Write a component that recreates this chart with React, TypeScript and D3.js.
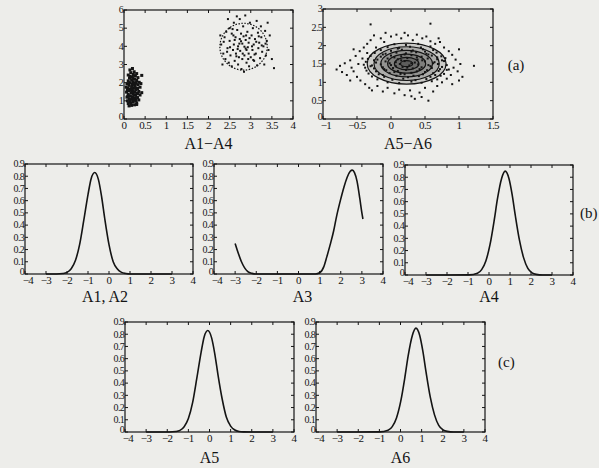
import React from 'react';
import * as d3 from 'd3';

// tick labels
const ticksA14X = [0, 0.5, 1, 1.5, 2, 2.5, 3, 3.5, 4];
const ticksA14Y = [0, 1, 2, 3, 4, 5, 6];
const ticksA56X = [-1, -0.5, 0, 0.5, 1, 1.5];
const ticksA56Y = [0, 0.5, 1, 1.5, 2, 2.5, 3];
const ticksDensX = [-4, -3, -2, -1, 0, 1, 2, 3, 4];
const ticksDensY = [0, 0.1, 0.2, 0.3, 0.4, 0.5, 0.6, 0.7, 0.8, 0.9];

// (a) scatter: A1-A4, two clusters
const a14Left: [number, number][] = [
  [0.12, 0.72], [0.18, 0.75], [0.25, 0.78], [0.1, 0.85], [0.3, 0.88], [0.15, 0.92], [0.22, 0.95], [0.08, 1.0],
  [0.28, 1.02], [0.35, 1.05], [0.18, 1.08], [0.12, 1.12], [0.25, 1.15], [0.32, 1.18], [0.07, 1.2], [0.2, 1.22],
  [0.15, 1.28], [0.28, 1.3], [0.38, 1.32], [0.1, 1.35], [0.22, 1.38], [0.3, 1.42], [0.17, 1.45], [0.06, 1.48],
  [0.25, 1.5], [0.35, 1.52], [0.12, 1.55], [0.2, 1.58], [0.28, 1.6], [0.15, 1.65], [0.32, 1.68], [0.09, 1.7],
  [0.22, 1.72], [0.38, 1.75], [0.18, 1.78], [0.26, 1.82], [0.12, 1.85], [0.33, 1.88], [0.2, 1.9], [0.07, 1.93],
  [0.27, 1.96], [0.15, 2.0], [0.36, 2.02], [0.22, 2.05], [0.1, 2.1], [0.3, 2.12], [0.18, 2.15], [0.25, 2.2],
  [0.13, 2.25], [0.33, 2.28], [0.2, 2.32], [0.27, 2.38], [0.1, 2.42], [0.22, 2.45], [0.3, 2.5], [0.16, 2.55],
  [0.24, 2.6], [0.14, 2.7], [0.2, 2.78], [0.42, 2.4], [0.4, 1.95], [0.42, 1.45], [0.05, 1.75], [0.14, 1.02],
  [0.24, 1.32], [0.2, 1.48], [0.16, 1.62], [0.24, 1.95], [0.14, 2.35], [0.3, 0.8], [0.09, 1.25], [0.19, 1.15],
  [0.27, 1.7], [0.11, 1.95], [0.21, 2.22], [0.29, 2.0], [0.17, 0.85], [0.33, 1.4], [0.08, 1.6], [0.23, 1.05],
];
const a14Right: [number, number][] = [
  [2.74, 4.4], [2.8, 4.15], [2.85, 3.98], [2.9, 3.8], [2.95, 3.6], [2.77, 4.28], [2.88, 3.88],
  [2.3, 4.1], [2.35, 3.6], [2.38, 4.5], [2.4, 3.3], [2.42, 4.8], [2.45, 3.9], [2.48, 3.1], [2.5, 4.3],
  [2.5, 5.0], [2.52, 3.5], [2.55, 4.7], [2.55, 2.9], [2.58, 3.8], [2.6, 4.1], [2.6, 5.3], [2.62, 3.2],
  [2.64, 4.5], [2.65, 3.6], [2.68, 4.9], [2.7, 3.0], [2.7, 4.0], [2.72, 3.4], [2.74, 5.5], [2.75, 3.75],
  [2.77, 4.7], [2.78, 2.75], [2.8, 3.3], [2.82, 5.1], [2.83, 4.55], [2.85, 3.5], [2.87, 5.7], [2.88, 4.35],
  [2.9, 3.1], [2.92, 4.8], [2.93, 3.95], [2.95, 4.2], [2.96, 2.9], [2.98, 5.3], [3.0, 3.4], [3.02, 4.6],
  [3.04, 3.8], [3.05, 5.0], [3.07, 4.1], [3.08, 3.2], [3.1, 4.4], [3.12, 3.6], [3.14, 5.4], [3.15, 2.95],
  [3.17, 4.75], [3.18, 3.9], [3.2, 4.2], [3.22, 3.35], [3.24, 5.1], [3.25, 4.5], [3.27, 3.7], [3.3, 4.0],
  [3.32, 3.0], [3.34, 4.85], [3.36, 3.5], [3.38, 4.3], [3.4, 5.3], [3.42, 3.8], [3.45, 4.6], [3.5, 3.3],
  [3.55, 2.8], [2.28, 4.6], [2.33, 3.0], [2.46, 5.5], [2.57, 4.95], [2.67, 5.65], [2.36, 4.25], [2.44, 3.7],
  [2.62, 4.35], [2.69, 3.85], [2.73, 4.15], [2.81, 3.6], [2.89, 4.6], [2.97, 4.45], [3.03, 4.0], [3.09, 3.55],
  [3.13, 4.25], [3.19, 4.55], [2.66, 3.45], [2.59, 4.6], [2.94, 3.3], [3.06, 3.25], [3.26, 4.05], [3.35, 4.15],
  [2.51, 3.95], [2.84, 2.6],
];
// contour of the right cluster: [cx, cy, rx, ry]
const a14Contours: [number, number, number, number][] = [[2.83, 3.98, 0.56, 1.29]];

// (a) scatter: A5-A6
const a56Points: [number, number][] = [
  [-0.05, 1.0], [0.12, 0.98], [0.3, 1.02], [0.45, 0.99], [0.6, 1.03],
  [-0.2, 1.08], [0.02, 1.07], [0.18, 1.1], [0.36, 1.06], [0.52, 1.09], [0.68, 1.08],
  [-0.28, 1.16], [-0.1, 1.15], [0.08, 1.18], [0.25, 1.14], [0.41, 1.17], [0.58, 1.15], [0.73, 1.18],
  [-0.33, 1.24], [-0.18, 1.22], [-0.02, 1.25], [0.14, 1.23], [0.3, 1.26], [0.47, 1.22], [0.62, 1.25], [0.78, 1.23],
  [-0.36, 1.32], [-0.22, 1.3], [-0.07, 1.33], [0.1, 1.31], [0.22, 1.34], [0.38, 1.3], [0.53, 1.33], [0.7, 1.31], [0.82, 1.34],
  [-0.38, 1.4], [-0.25, 1.38], [-0.12, 1.41], [0.03, 1.39], [0.17, 1.42], [0.32, 1.38], [0.45, 1.41], [0.6, 1.39], [0.75, 1.42],
  [-0.4, 1.48], [-0.28, 1.46], [-0.15, 1.49], [0.0, 1.47], [0.13, 1.5], [0.27, 1.46], [0.4, 1.49], [0.55, 1.47], [0.69, 1.5], [0.82, 1.47],
  [-0.37, 1.56], [-0.22, 1.54], [-0.08, 1.57], [0.07, 1.55], [0.2, 1.58], [0.35, 1.54], [0.5, 1.57], [0.64, 1.55], [0.78, 1.58],
  [-0.34, 1.64], [-0.2, 1.62], [-0.05, 1.65], [0.1, 1.63], [0.24, 1.66], [0.39, 1.62], [0.54, 1.65], [0.68, 1.63], [0.8, 1.66],
  [-0.3, 1.72], [-0.15, 1.7], [0.0, 1.73], [0.15, 1.71], [0.3, 1.74], [0.45, 1.7], [0.6, 1.73], [0.74, 1.71],
  [-0.24, 1.8], [-0.08, 1.78], [0.08, 1.81], [0.22, 1.79], [0.37, 1.82], [0.52, 1.78], [0.67, 1.81],
  [-0.15, 1.88], [0.0, 1.86], [0.16, 1.89], [0.32, 1.87], [0.47, 1.9], [0.62, 1.88],
  [-0.05, 1.96], [0.12, 1.94], [0.28, 1.97], [0.44, 1.95], [0.58, 1.98],
  [0.05, 2.04], [0.22, 2.02], [0.4, 2.05],
  [-0.12, 1.2], [0.05, 1.28], [0.2, 1.22], [0.33, 1.18], [0.5, 1.28], [0.65, 1.2], [-0.3, 1.44], [-0.1, 1.36],
  [0.07, 1.44], [0.24, 1.4], [0.42, 1.36], [0.58, 1.44], [0.72, 1.36], [-0.25, 1.6], [-0.02, 1.52], [0.15, 1.6],
  [0.3, 1.52], [0.46, 1.6], [0.62, 1.52], [0.75, 1.6], [-0.12, 1.76], [0.05, 1.68], [0.2, 1.76], [0.38, 1.68],
  [0.55, 1.76], [0.68, 1.68], [0.1, 1.92], [0.3, 1.84], [0.5, 1.84],
  [-0.8, 1.35], [-0.75, 1.45], [-0.72, 1.28], [-0.68, 1.52], [-0.65, 1.2], [-0.6, 1.6], [-0.58, 1.4], [-0.55, 1.3],
  [-0.52, 1.72], [-0.5, 1.15], [-0.48, 1.5], [-0.46, 1.85], [-0.45, 1.05], [-0.42, 1.65], [-0.4, 1.95], [-0.38, 0.95],
  [-0.35, 2.05], [-0.32, 0.85], [-0.3, 2.15], [-0.28, 0.78], [-0.25, 2.28], [-0.22, 1.95], [-0.2, 0.9], [-0.3, 2.58],
  [-0.15, 2.2], [-0.12, 0.75], [-0.08, 2.35], [-0.05, 0.85], [0.0, 2.25], [0.05, 0.7], [0.08, 2.3], [0.12, 0.8],
  [0.15, 2.2], [0.2, 0.65], [0.25, 2.28], [0.28, 0.78], [0.32, 2.15], [0.35, 0.55], [0.38, 2.3], [0.42, 0.72],
  [0.46, 2.2], [0.5, 0.85], [0.52, 2.25], [0.55, 0.5], [0.58, 2.12], [0.62, 0.75], [0.65, 2.05], [0.68, 0.9],
  [0.72, 2.1], [0.75, 1.0], [0.78, 1.95], [0.82, 1.1], [0.85, 1.85], [0.88, 1.2], [0.9, 1.75], [0.92, 1.4],
  [0.95, 1.62], [0.98, 1.3], [1.0, 1.9], [1.02, 1.5], [1.05, 1.15], [1.0, 1.05], [1.22, 1.45], [0.58, 2.6],
  [0.3, 0.62], [0.45, 0.6], [-0.6, 1.05], [-0.35, 1.8], [0.85, 1.35], [0.9, 0.95], [-0.55, 1.9], [0.2, 2.35],
  [0.7, 2.2], [-0.1, 2.1],
];
const a56Contours: [number, number, number, number][] = [
  [0.23, 1.51, 0.58, 0.56], [0.23, 1.51, 0.48, 0.46], [0.23, 1.51, 0.38, 0.36],
  [0.23, 1.51, 0.28, 0.26], [0.23, 1.51, 0.18, 0.17], [0.23, 1.51, 0.09, 0.08],
];

// (b), (c) densities
const densA12: [number, number][] = [
  [-3, 0], [-2.5, 0], [-2.2, 0.004], [-2.0, 0.013], [-1.8, 0.043], [-1.6, 0.11], [-1.4, 0.24], [-1.2, 0.44],
  [-1.0, 0.65], [-0.85, 0.78], [-0.68, 0.83], [-0.5, 0.77], [-0.35, 0.63], [-0.2, 0.45], [0, 0.24], [0.2, 0.1],
  [0.4, 0.04], [0.6, 0.013], [0.8, 0.004], [1.0, 0], [1.5, 0], [2, 0], [2.5, 0], [3, 0],
];
const densA3: [number, number][] = [
  [-3.0, 0.25], [-2.85, 0.17], [-2.7, 0.1], [-2.55, 0.05], [-2.4, 0.02], [-2.2, 0.005], [-2.0, 0],
  [-1, 0], [0, 0], [0.8, 0], [1.0, 0.01], [1.2, 0.06], [1.34, 0.14], [1.5, 0.24], [1.66, 0.35], [1.8, 0.47],
  [1.98, 0.6], [2.15, 0.71], [2.3, 0.79], [2.45, 0.84], [2.55, 0.85], [2.65, 0.83], [2.77, 0.76], [2.9, 0.62],
  [3.0, 0.5], [3.05, 0.45],
];
const densA4: [number, number][] = [
  [-3, 0], [-2, 0], [-0.95, 0.001], [-0.55, 0.014], [-0.35, 0.044], [-0.15, 0.115], [0.05, 0.25], [0.25, 0.45],
  [0.4, 0.62], [0.6, 0.79], [0.77, 0.85], [0.95, 0.79], [1.1, 0.66], [1.25, 0.49], [1.45, 0.285], [1.65, 0.14],
  [1.85, 0.054], [2.05, 0.018], [2.25, 0.005], [2.55, 0], [3, 0],
];
const densA5: [number, number][] = [
  [-3, 0], [-2.4, 0], [-1.9, 0], [-1.6, 0.004], [-1.4, 0.013], [-1.2, 0.043], [-1.0, 0.11], [-0.8, 0.24],
  [-0.6, 0.44], [-0.4, 0.65], [-0.25, 0.78], [-0.08, 0.83], [0.1, 0.77], [0.25, 0.64], [0.4, 0.47], [0.6, 0.27],
  [0.8, 0.12], [1.0, 0.048], [1.2, 0.016], [1.4, 0.004], [1.6, 0.001], [2, 0], [2.5, 0], [3, 0],
];
const densA6: [number, number][] = [
  [-3, 0], [-2, 0], [-0.99, 0.001], [-0.59, 0.014], [-0.39, 0.044], [-0.19, 0.115], [0.01, 0.25], [0.21, 0.45],
  [0.36, 0.62], [0.56, 0.79], [0.73, 0.85], [0.91, 0.79], [1.06, 0.66], [1.21, 0.49], [1.41, 0.285], [1.61, 0.14],
  [1.81, 0.054], [2.01, 0.018], [2.21, 0.005], [2.51, 0], [3, 0],
];

const W = 599;
const H = 468;
const INK = '#141414';
const FONT = '"Liberation Serif", "DejaVu Serif", serif';

type Box = { left: number; top: number; w: number; h: number };

const fmt = (v: number) => (v < 0 ? '\u2212' + String(-v) : String(v));

function Frame({ box, x, y, xTicks, yTicks, title, titleY, titleDx = 0 }: any) {
  const bottom = box.top + box.h;
  const right = box.left + box.w;
  return (
    <g>
      <rect x={box.left} y={box.top} width={box.w} height={box.h} fill="none" stroke={INK} strokeWidth={1.2} />
      {xTicks.map((t: number, i: number) => (
        <g key={'x' + t}>
          <line x1={x(t)} x2={x(t)} y1={bottom} y2={bottom - 3} stroke={INK} />
          <line x1={x(t)} x2={x(t)} y1={box.top} y2={box.top + 3} stroke={INK} />
          <text x={x(t) + (i === 0 && t < 0 ? 3 : 0)} y={bottom + 10} textAnchor="middle" fontSize={11} letterSpacing={-0.6}>
            {fmt(t)}
          </text>
        </g>
      ))}
      {yTicks.map((t: number, i: number) => (
        <g key={'y' + t}>
          <line x1={box.left} x2={box.left + 3} y1={y(t)} y2={y(t)} stroke={INK} />
          <line x1={right} x2={right - 3} y1={y(t)} y2={y(t)} stroke={INK} />
          <text x={box.left - 1} y={y(t) - (i === 0 ? 2 : 0)} dy="0.33em" textAnchor="end" fontSize={10} letterSpacing={-0.7}>
            {fmt(t)}
          </text>
        </g>
      ))}
      <text x={box.left + box.w / 2 + titleDx} y={titleY} textAnchor="middle" fontSize={16}>
        {title}
      </text>
    </g>
  );
}

function ScatterPanel({ box, xDomain, yDomain, xTicks, yTicks, sets, sizes, contours, dash, shade, title }: any) {
  const x = d3.scaleLinear().domain(xDomain).range([box.left, box.left + box.w]);
  const y = d3.scaleLinear().domain(yDomain).range([box.top + box.h, box.top]);
  return (
    <g>
      {contours.map((c: number[], i: number) => (
        <ellipse
          key={'c' + i}
          cx={x(c[0])}
          cy={y(c[1])}
          rx={x(c[0] + c[2]) - x(c[0])}
          ry={y(c[1]) - y(c[1] + c[3])}
          fill={INK}
          fillOpacity={shade}
          stroke={INK}
          strokeWidth={1.2}
          strokeDasharray={dash}
        />
      ))}
      {sets.map((pts: [number, number][], k: number) =>
        pts.map((p, i) => (
          <rect
            key={k + '-' + i}
            x={x(p[0]) - sizes[k] / 2}
            y={y(p[1]) - sizes[k] / 2}
            width={sizes[k]}
            height={sizes[k]}
            fill={INK}
          />
        ))
      )}
      <Frame box={box} x={x} y={y} xTicks={xTicks} yTicks={yTicks} title={title} titleY={149} />
    </g>
  );
}

function DensityPanel({ box, data, title, titleY, titleDx = 0 }: any) {
  const x = d3.scaleLinear().domain([-4, 4]).range([box.left, box.left + box.w]);
  const y = d3.scaleLinear().domain([0, 0.9]).range([box.top + box.h, box.top]);
  const line = d3
    .line<[number, number]>()
    .x((d) => x(d[0]))
    .y((d) => y(d[1]))
    .curve(d3.curveMonotoneX);
  return (
    <g>
      <path d={line(data) || ''} fill="none" stroke={INK} strokeWidth={1.6} />
      <Frame box={box} x={x} y={y} xTicks={ticksDensX} yTicks={ticksDensY} title={title} titleY={titleY} titleDx={titleDx} />
    </g>
  );
}

export default function App() {
  const boxA14: Box = { left: 124, top: 10, w: 169, h: 109 };
  const boxA56: Box = { left: 323, top: 9, w: 170, h: 110 };
  const boxB1: Box = { left: 25, top: 164, w: 168, h: 110 };
  const boxB2: Box = { left: 214, top: 164, w: 169, h: 110 };
  const boxB3: Box = { left: 405, top: 165, w: 168, h: 110 };
  const boxC1: Box = { left: 125, top: 322, w: 169, h: 110 };
  const boxC2: Box = { left: 316, top: 322, w: 169, h: 110 };
  return (
    <svg
      width={W}
      height={H}
      style={{ position: 'absolute', left: 0, top: 0, fontFamily: FONT }}
      fill={INK}
    >
      <rect width={W} height={H} fill="#ededea" />
      <ScatterPanel
        box={boxA14}
        xDomain={[0, 4]}
        yDomain={[0, 6]}
        xTicks={ticksA14X}
        yTicks={ticksA14Y}
        sets={[a14Left, a14Right]}
        sizes={[3, 2]}
        contours={a14Contours}
        dash="1.5,1.5"
        shade={0}
        title={'A1\u2212A4'}
      />
      <ScatterPanel
        box={boxA56}
        xDomain={[-1, 1.5]}
        yDomain={[0, 3]}
        xTicks={ticksA56X}
        yTicks={ticksA56Y}
        sets={[a56Points]}
        sizes={[2]}
        contours={a56Contours}
        dash="none"
        shade={0.16}
        title={'A5\u2212A6'}
      />
      <text x={516} y={70} textAnchor="middle" fontSize={15}>(a)</text>
      <DensityPanel box={boxB1} data={densA12} title="A1, A2" titleY={302} titleDx={-4} />
      <DensityPanel box={boxB2} data={densA3} title="A3" titleY={302} titleDx={4} />
      <DensityPanel box={boxB3} data={densA4} title="A4" titleY={302} />
      <text x={580} y={218} fontSize={15}>(b)</text>
      <DensityPanel box={boxC1} data={densA5} title="A5" titleY={463} />
      <DensityPanel box={boxC2} data={densA6} title="A6" titleY={463} />
      <text x={498} y={367} fontSize={15}>(c)</text>
    </svg>
  );
}
